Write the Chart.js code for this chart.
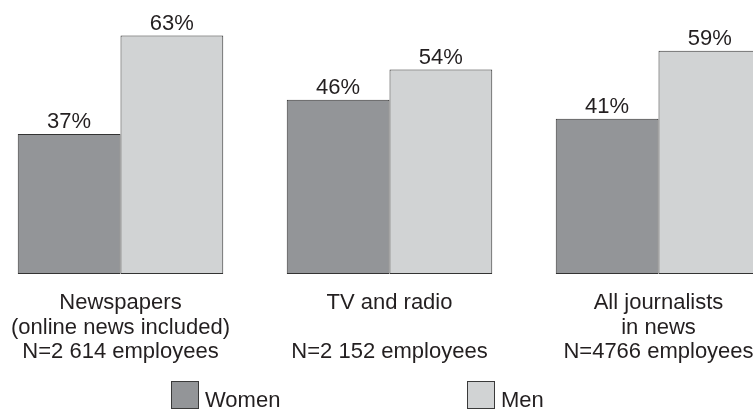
<!DOCTYPE html>
<html>
<head>
<meta charset="utf-8">
<script src="https://cdn.jsdelivr.net/npm/chart.js@4.4.1/dist/chart.umd.min.js"></script>
<style>
  html, body { margin: 0; padding: 0; background: #fff; overflow: hidden; }
  #wrap { position: relative; width: 753px; height: 410px; overflow: hidden; }
  #grafico { position: absolute; left: -14px; top: 0; }
</style>
</head>
<body>
<div id="wrap">
  <canvas id="grafico" width="807" height="410"></canvas>
</div>
<script>
const categorias = [
    ['Newspapers', '(online news included)', 'N=2 614 employees'],
    ['TV and radio', '', 'N=2 152 employees'],
    ['All journalists', 'in news', 'N=4766 employees']
];
const mujeres = [37, 46, 41];
const hombres = [63, 54, 59];
const series = ['Women', 'Men'];

const fuente = "'Liberation Sans', Arial, Helvetica, sans-serif";
const colorTexto = '#231f20';

// etiquetas de porcentaje encima de cada barra
const etiquetasBarras = {
    id: 'etiquetasBarras',
    afterDatasetsDraw(chart) {
        const ctx = chart.ctx;
        ctx.save();
        ctx.font = '22px ' + fuente;
        ctx.fillStyle = colorTexto;
        ctx.textAlign = 'center';
        ctx.textBaseline = 'alphabetic';
        chart.data.datasets.forEach((ds, i) => {
            chart.getDatasetMeta(i).data.forEach((bar, j) => {
                ctx.fillText(ds.data[j] + '%', bar.x, bar.y - 6);
            });
        });
        ctx.restore();
    }
};

// leyenda abajo, con los cuadros separados como en el original
const leyenda = {
    id: 'leyenda',
    afterDraw(chart) {
        const ctx = chart.ctx;
        const posiciones = [185, 481];
        ctx.save();
        ctx.font = '22px ' + fuente;
        ctx.textBaseline = 'alphabetic';
        ctx.textAlign = 'left';
        chart.data.datasets.forEach((ds, i) => {
            const x = posiciones[i];
            ctx.fillStyle = ds.backgroundColor;
            ctx.fillRect(x, 381, 27, 27);
            ctx.strokeStyle = '#3a3a3a';
            ctx.lineWidth = 1;
            ctx.strokeRect(x + 0.5, 381.5, 27, 27);
            ctx.fillStyle = colorTexto;
            ctx.fillText(ds.label, x + 34, 407);
        });
        ctx.restore();
    }
};

const config = {
    type: 'bar',
    data: {
        labels: categorias,
        datasets: [
            {
                label: series[0],
                data: mujeres,
                backgroundColor: '#939598',
                borderColor: '#333333',
                borderWidth: 1,
                borderSkipped: false
            },
            {
                label: series[1],
                data: hombres,
                backgroundColor: '#d1d3d4',
                borderColor: '#333333',
                borderWidth: 1,
                borderSkipped: false
            }
        ]
    },
    options: {
        responsive: false,
        animation: false,
        layout: {
            padding: { top: 9, bottom: 46, left: 0, right: 0 }
        },
        plugins: {
            legend: { display: false },
            tooltip: { enabled: false }
        },
        datasets: {
            bar: {
                barPercentage: 1,
                categoryPercentage: 0.764
            }
        },
        scales: {
            x: {
                grid: { display: false, drawTicks: false },
                border: { display: false },
                ticks: {
                    color: colorTexto,
                    font: { family: fuente, size: 22, lineHeight: 1.11 },
                    padding: 17,
                    autoSkip: false,
                    maxRotation: 0,
                    minRotation: 0
                },
                afterFit(scale) {
                    scale.height = 90;
                }
            },
            y: {
                display: false,
                min: 0,
                max: 70
            }
        }
    },
    plugins: [etiquetasBarras, leyenda]
};

new Chart(document.getElementById('grafico'), config);
</script>
</body>
</html>
